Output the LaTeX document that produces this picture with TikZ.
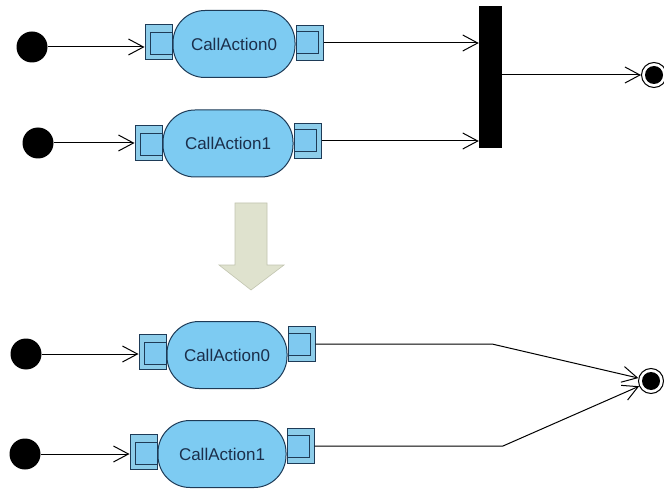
\documentclass[tikz,border=0pt]{standalone}
\usepackage{fontspec}
\setmainfont{Liberation Sans}
\usetikzlibrary{arrows.meta}
\definecolor{actfill}{HTML}{7DCBF2}
\definecolor{actline}{HTML}{1E3B57}
\definecolor{pinfill}{HTML}{8DCDEA}
\definecolor{pininfill}{HTML}{7FC9F0}
\definecolor{txt}{HTML}{1B2F4B}
\definecolor{blkfill}{HTML}{DFE2CE}
\definecolor{blkline}{HTML}{C2C5B0}
\tikzset{
  action/.style={draw=actline, line width=1pt, fill=actfill, rounded corners=32pt,
    minimum height=67pt, inner sep=0pt, text=txt, font=\fontsize{17}{19}\selectfont},
  pinout/.style={draw=actline, line width=1pt, fill=pinfill, minimum width=27pt,
    minimum height=35pt, inner sep=0pt},
  pinin/.style={draw=actline, line width=1pt, fill=pininfill, minimum width=22pt,
    minimum height=22pt, inner sep=0pt},
  initnode/.style={circle, fill=black, minimum size=31pt, inner sep=0pt},
  finalring/.style={circle, draw=black, line width=1pt, fill=white, minimum size=25pt, inner sep=0pt},
  finaldot/.style={circle, fill=black, minimum size=18pt, inner sep=0pt},
  flow/.style={line width=1pt, -{Straight Barb[length=15pt,width=16pt,line width=1pt]}},
}
\begin{document}
\begin{tikzpicture}[x=1pt,y=1pt]
\useasboundingbox (0,0) rectangle (664,-489);
\fill[white] (0,0) rectangle (664,-489);

% ---------- upper diagram: join bar ----------
\node[initnode] (i0) at (32,-47) {};
\node[initnode] (i1) at (38,-143) {};

\node[action, minimum width=122pt] (a0) at (234,-44) {CallAction0};
\node[pinout, anchor=east] (pl0) at (a0.west |- 0,-42) {};
\node[pinin, anchor=east] (pl0i) at ([yshift=-1.5pt]pl0.east) {};
\node[pinout, anchor=west] (pr0) at (a0.east |- 0,-43) {};
\node[pinin, anchor=west] (pr0i) at (pr0.west) {};

\node[action, minimum width=130pt] (a1) at (228,-143.5) {CallAction1};
\node[pinout, anchor=east] (pl1) at (a1.west |- 0,-143.5) {};
\node[pinin, anchor=east] (pl1i) at ([yshift=-1.5pt]pl1.east) {};
\node[pinout, anchor=west] (pr1) at (a1.east |- 0,-141) {};
\node[pinin, anchor=west] (pr1i) at (pr1.west) {};

\node[fill=black, minimum width=23pt, minimum height=142pt, inner sep=0pt] (bar) at (490.5,-77) {};

\node[finalring] (f0) at (654,-75) {};
\node[finaldot] (f0c) at (f0) {};

\draw[flow] (i0) -- (i0 -| pl0.west);
\draw[flow] (i1) -- (i1 -| pl1.west);
\draw[flow] (pr0.east) -- (pr0.east -| bar.west);
\draw[flow] (pr1.east) -- (pr1.east -| bar.west);
\draw[flow] (bar.east |- f0) -- (f0);

% ---------- transformation arrow ----------
\filldraw[fill=blkfill, draw=blkline, line width=0.6pt]
  (235,-203) -- (267,-203) -- (267,-265) -- (284,-265) -- (251,-290)
  -- (219,-265) -- (235,-265) -- cycle;

% ---------- lower diagram: merged flows ----------
\node[initnode] (i2) at (26,-354) {};
\node[initnode] (i3) at (25,-454) {};

\node[action, minimum width=120pt] (a2) at (227,-355) {CallAction0};
\node[pinout, anchor=east] (pl2) at (a2.west |- 0,-352) {};
\node[pinin, anchor=east] (pl2i) at ([yshift=-1.5pt]pl2.east) {};
\node[pinout, anchor=west] (pr2) at (a2.east |- 0,-344) {};
\node[pinin, anchor=west] (pr2i) at (pr2.west) {};

\node[action, minimum width=128pt] (a3) at (222,-454) {CallAction1};
\node[pinout, anchor=east] (pl3) at (a3.west |- 0,-452) {};
\node[pinin, anchor=east] (pl3i) at ([yshift=-1.5pt]pl3.east) {};
\node[pinout, anchor=west] (pr3) at (a3.east |- 0,-446) {};
\node[pinin, anchor=west] (pr3i) at (pr3.west) {};

\node[finalring] (f1) at (651,-381) {};
\node[finaldot] (f1c) at (f1) {};

\coordinate (b2) at (492,-344);
\coordinate (b3) at (503,-446);

\draw[flow] (i2) -- (i2 -| pl2.west);
\draw[flow] (i3) -- (i3 -| pl3.west);
\draw[flow] (pr2.east) -- (b2) -- (f1);
\draw[flow] (pr3.east) -- (b3) -- (f1);
\end{tikzpicture}
\end{document}
